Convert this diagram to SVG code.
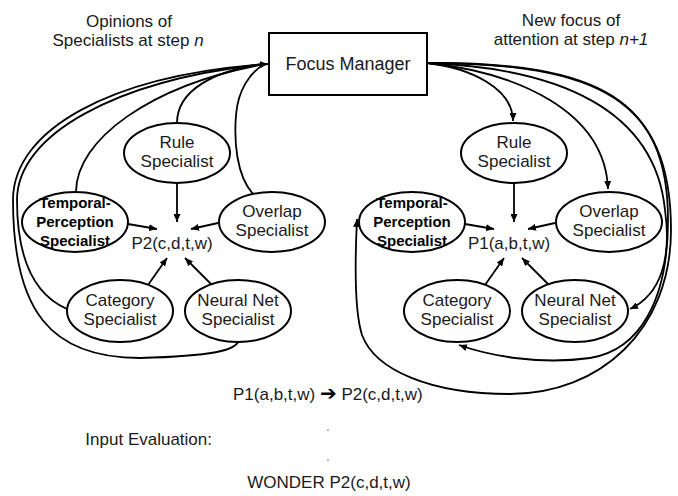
<svg xmlns="http://www.w3.org/2000/svg" width="678" height="496" viewBox="0 0 678 496">
<style>
text{font-family:"Liberation Sans",Arial,sans-serif;font-size:17px;fill:#1a1a1a;text-anchor:middle}
.bold{font-weight:bold;font-size:15px;fill:#000}
.node{fill:#fff;stroke:#000;stroke-width:2}
.c{fill:none;stroke:#000;stroke-width:1.8}
.a{marker-end:url(#ah)}
</style>
<defs>
<marker id="ah" markerUnits="userSpaceOnUse" markerWidth="9" markerHeight="7" refX="8" refY="3.5" orient="auto">
<path d="M0,0 L8,3.5 L0,7 z" fill="#000"/>
</marker>
</defs>
<rect width="678" height="496" fill="#fff"/>

<g id="connectors">
<path class="c" d="M177,123 C177,90 215,70 265,64"/>
<path class="c" d="M253,194 C236,175 234,140 236,115 C238,90 250,72 265,64"/>
<path class="c" d="M76,192 C76,140 150,85 265,64"/>
<path class="c" d="M67,309 C35,295 17,260 17,200 C17,135 115,80 265,64"/>
<path class="c a" d="M238,342 C234,350 215,356 140,358 C50,358 13,310 13,200 C13,130 110,75 268,64"/>
<line class="c a" x1="177" y1="183" x2="177" y2="222"/>
<line class="c a" x1="128" y1="224" x2="157" y2="229"/>
<line class="c a" x1="218" y1="223" x2="191" y2="229"/>
<line class="c a" x1="148" y1="285" x2="167" y2="258"/>
<line class="c a" x1="212" y1="285" x2="185" y2="258"/>

<path class="c a" d="M427,63 C470,68 513,88 513,121"/>
<path class="c a" d="M427,63 C515,72 605,110 608,189"/>
<path class="c a" d="M427,63 C560,68 655,110 665,210 C672,260 660,295 630,309"/>
<path class="c a" d="M427,63 C600,62 668,100 668,220 C668,300 640,350 590,358 C540,365 490,356 459,345"/>
<path class="c a" d="M427,63 C600,63 671,100 671,230 C671,330 600,394 510,394 C430,394 375,370 362,335 C354,310 355,260 357,219"/>
<line class="c a" x1="514" y1="183" x2="514" y2="222"/>
<line class="c a" x1="465" y1="224" x2="494" y2="229"/>
<line class="c a" x1="555" y1="223" x2="528" y2="229"/>
<line class="c a" x1="485" y1="285" x2="504" y2="258"/>
<line class="c a" x1="549" y1="285" x2="522" y2="258"/>
</g>

<g id="focus-manager">
<rect class="node" x="269" y="33" width="158" height="62"/>
<text x="348" y="70" style="font-size:18px">Focus Manager</text>
</g>

<g id="l-rule">
<ellipse class="node" cx="177" cy="153" rx="53" ry="30"/>
<text x="177" y="148">Rule</text><text x="177" y="167">Specialist</text>
</g>
<g id="l-temporal">
<ellipse class="node" cx="75" cy="222" rx="53" ry="30"/>
<text class="bold" x="75" y="208">Temporal-</text><text class="bold" x="75" y="227">Perception</text><text class="bold" x="75" y="246">Specialist</text>
</g>
<g id="l-overlap">
<ellipse class="node" cx="272" cy="222" rx="53" ry="30"/>
<text x="272" y="217">Overlap</text><text x="272" y="236">Specialist</text>
</g>
<g id="l-category">
<ellipse class="node" cx="120" cy="311" rx="53" ry="31"/>
<text x="120" y="306">Category</text><text x="120" y="325">Specialist</text>
</g>
<g id="l-neural">
<ellipse class="node" cx="238" cy="311" rx="53" ry="31"/>
<text x="238" y="306">Neural Net</text><text x="238" y="325">Specialist</text>
</g>
<g id="l-p2"><text x="172" y="249">P2(c,d,t,w)</text></g>

<g id="r-rule">
<ellipse class="node" cx="514" cy="153" rx="53" ry="30"/>
<text x="514" y="148">Rule</text><text x="514" y="167">Specialist</text>
</g>
<g id="r-temporal">
<ellipse class="node" cx="412" cy="222" rx="53" ry="30"/>
<text class="bold" x="412" y="208">Temporal-</text><text class="bold" x="412" y="227">Perception</text><text class="bold" x="412" y="246">Specialist</text>
</g>
<g id="r-overlap">
<ellipse class="node" cx="609" cy="222" rx="53" ry="30"/>
<text x="609" y="217">Overlap</text><text x="609" y="236">Specialist</text>
</g>
<g id="r-category">
<ellipse class="node" cx="457" cy="311" rx="53" ry="31"/>
<text x="457" y="306">Category</text><text x="457" y="325">Specialist</text>
</g>
<g id="r-neural">
<ellipse class="node" cx="575" cy="311" rx="53" ry="31"/>
<text x="575" y="306">Neural Net</text><text x="575" y="325">Specialist</text>
</g>
<g id="r-p1"><text x="509" y="249">P1(a,b,t,w)</text></g>

<g id="labels">
<text x="129" y="27">Opinions of</text>
<text x="128" y="46">Specialists at step <tspan font-style="italic">n</tspan></text>
<text x="571" y="26">New focus of</text>
<text x="571" y="45">attention at step <tspan font-style="italic">n+1</tspan></text>
<text x="233" y="400" style="text-anchor:start">P1(a,b,t,w) <tspan style="font-family:'DejaVu Sans',sans-serif;font-size:20px;font-weight:bold;fill:#000">➔</tspan> P2(c,d,t,w)</text>
<text x="212" y="445" style="text-anchor:end">Input Evaluation:</text>
<text x="328" y="431" style="font-size:12px;fill:#555">.</text>
<text x="328" y="461" style="font-size:12px;fill:#555">.</text>
<text x="329" y="488">WONDER P2(c,d,t,w)</text>
</g>
</svg>
